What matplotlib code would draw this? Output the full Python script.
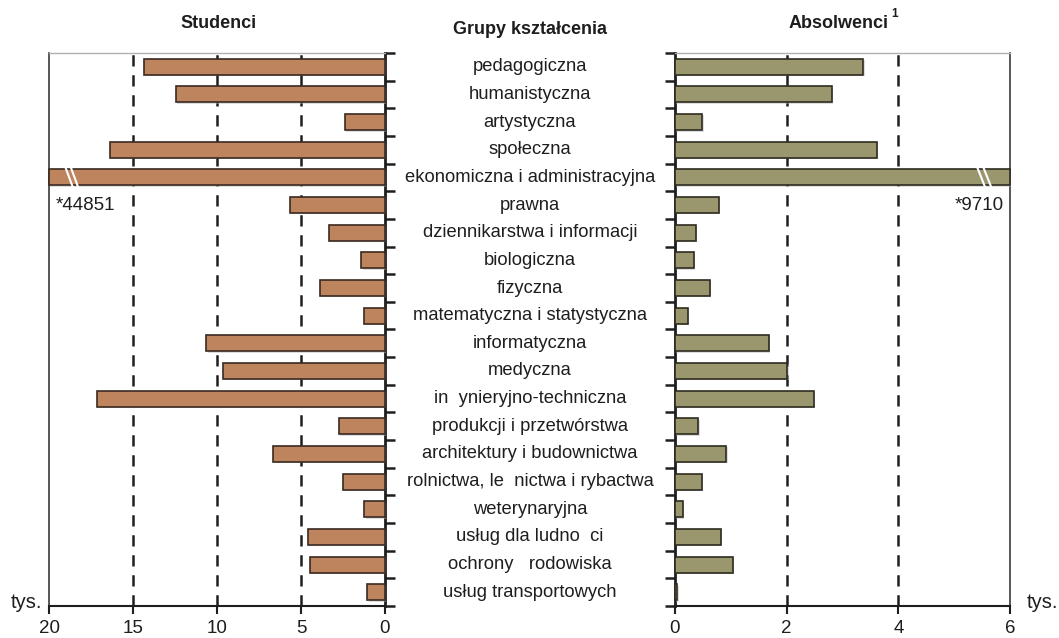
import matplotlib
matplotlib.use("Agg")
import matplotlib.pyplot as plt
import matplotlib.transforms as mtransforms
from matplotlib.lines import Line2D
import matplotlib.patheffects as pe

plt.rcParams['font.family'] = ['Liberation Sans', 'DejaVu Sans']

categories = [
    "pedagogiczna", "humanistyczna", "artystyczna", "społeczna",
    "ekonomiczna i administracyjna", "prawna", "dziennikarstwa i informacji",
    "biologiczna", "fizyczna", "matematyczna i statystyczna", "informatyczna",
    "medyczna", "in  ynieryjno-techniczna", "produkcji i przetwórstwa",
    "architektury i budownictwa", "rolnictwa, le  nictwa i rybactwa",
    "weterynaryjna", "usług dla ludno  ci", "ochrony   rodowiska",
    "usług transportowych",
]
studenci = [14.35, 12.44, 2.38, 16.39, 44.851, 5.65, 3.33, 1.40, 3.85, 1.24,
            10.64, 9.67, 17.16, 2.76, 6.65, 2.50, 1.23, 4.60, 4.48, 1.05]
absolwenci = [3.37, 2.81, 0.49, 3.61, 9.710, 0.78, 0.37, 0.34, 0.62, 0.23,
              1.68, 2.01, 2.49, 0.42, 0.92, 0.48, 0.14, 0.82, 1.04, 0.04]
left_ticks = [20, 15, 10, 5, 0]
right_ticks = [0, 2, 4, 6]
left_max = 20
right_max = 6

W, H = 1059, 638
fig = plt.figure(figsize=(W / 100, H / 100), dpi=100)
fig.patch.set_facecolor("white")

bottom = 1 - 606 / H
height = (606 - 53) / H
ax1 = fig.add_axes([49 / W, bottom, 336 / W, height])
ax2 = fig.add_axes([675 / W, bottom, 335 / W, height])

txt = "#1e1e1e"
n = len(categories)
ypos = list(range(n))
bar_h = 0.58
shadow = [pe.SimplePatchShadow(offset=(1.0, -1.0), shadow_rgbFace="#b5b5b5", alpha=0.45), pe.Normal()]

def style_axis(ax, xmax, ticks, side):
    ax.set_xlim(0, xmax)
    ax.set_ylim(n - 0.5, -0.5)
    ax.set_xticks(ticks)
    ax.set_xticklabels([str(t) for t in ticks], fontsize=13.5, color=txt)
    ax.tick_params(axis="x", direction="out", length=6, width=1.5, color="#1e1e1e", pad=4)
    ax.set_yticks([i - 0.5 for i in range(n + 1)])
    ax.set_yticklabels([])
    for t in ticks:
        if 0 < t < xmax:
            ax.axvline(t, color="#1e1e1e", lw=1.8, ls=(0, (4.5, 3.5)), zorder=1)
    ax.spines["top"].set_color("#b0b0b0")
    ax.spines["top"].set_linewidth(1.0)
    ax.spines["bottom"].set_color("#1e1e1e")
    ax.spines["bottom"].set_linewidth(1.5)
    if side == "left":
        ax.invert_xaxis()
        ax.yaxis.tick_right()
        ax.spines["right"].set_color("#1e1e1e")
        ax.spines["right"].set_linewidth(2.0)
        ax.spines["left"].set_color("#3a3a3a")
        ax.spines["left"].set_linewidth(1.2)
    else:
        ax.yaxis.tick_left()
        ax.spines["left"].set_color("#1e1e1e")
        ax.spines["left"].set_linewidth(2.0)
        ax.spines["right"].set_color("#3a3a3a")
        ax.spines["right"].set_linewidth(1.2)
    ax.tick_params(axis="y", direction="out", length=7, width=1.8, color="#1e1e1e")

style_axis(ax1, left_max, left_ticks, "left")
style_axis(ax2, right_max, right_ticks, "right")

s_draw = [min(v, left_max) for v in studenci]
a_draw = [min(v, right_max) for v in absolwenci]
b1 = ax1.barh(ypos, s_draw, height=bar_h, color="#be845e", edgecolor="#3a2a20", lw=1.2, zorder=3)
b2 = ax2.barh(ypos, a_draw, height=bar_h, color="#9a966e", edgecolor="#2e2c20", lw=1.2, zorder=3)
for p in list(b1) + list(b2):
    p.set_path_effects(shadow)
    p.set_clip_on(False)

# break marks on clipped bars
for i, v in enumerate(studenci):
    if v > left_max:
        for dx in (0, 0.32):
            ax1.add_line(Line2D([19.0 - dx, 18.6 - dx], [i - 0.33, i + 0.33],
                                color="white", lw=1.5, zorder=5))
        ax1.text(19.6, i + 1, "*" + str(int(round(v * 1000))), fontsize=13.5,
                 color=txt, ha="left", va="center", zorder=6)
for i, v in enumerate(absolwenci):
    if v > right_max:
        for dx in (0, 0.11):
            ax2.add_line(Line2D([5.42 + dx, 5.55 + dx], [i - 0.33, i + 0.33],
                                color="white", lw=1.5, zorder=5))
        ax2.text(5.88, i + 1, "*" + str(int(round(v * 1000))), fontsize=13.5,
                 color=txt, ha="right", va="center", zorder=6)

# category labels in the middle
trans = mtransforms.blended_transform_factory(fig.transFigure, ax1.transData)
for i, c in enumerate(categories):
    fig.text(530 / W, i, c, transform=trans, ha="center", va="center",
             fontsize=13.2, color=txt)

# titles
fig.text(219 / W, 1 - 24 / H, "Studenci", ha="center", va="center",
         fontsize=13, fontweight="bold", color=txt)
fig.text(530 / W, 1 - 29 / H, "Grupy kształcenia", ha="center", va="center",
         fontsize=13, fontweight="bold", color=txt)
fig.text(839 / W, 1 - 24 / H, "Absolwenci", ha="center", va="center",
         fontsize=13, fontweight="bold", color=txt)
fig.text(891 / W, 1 - 14 / H, "1", ha="left", va="center",
         fontsize=8.5, fontweight="bold", color=txt)

# unit labels
fig.text(11 / W, 1 - 603 / H, "tys.", ha="left", va="center", fontsize=14.5, color=txt)
fig.text(1027 / W, 1 - 603 / H, "tys.", ha="left", va="center", fontsize=14.5, color=txt)

fig.savefig("out.png", dpi=100, facecolor="white")
